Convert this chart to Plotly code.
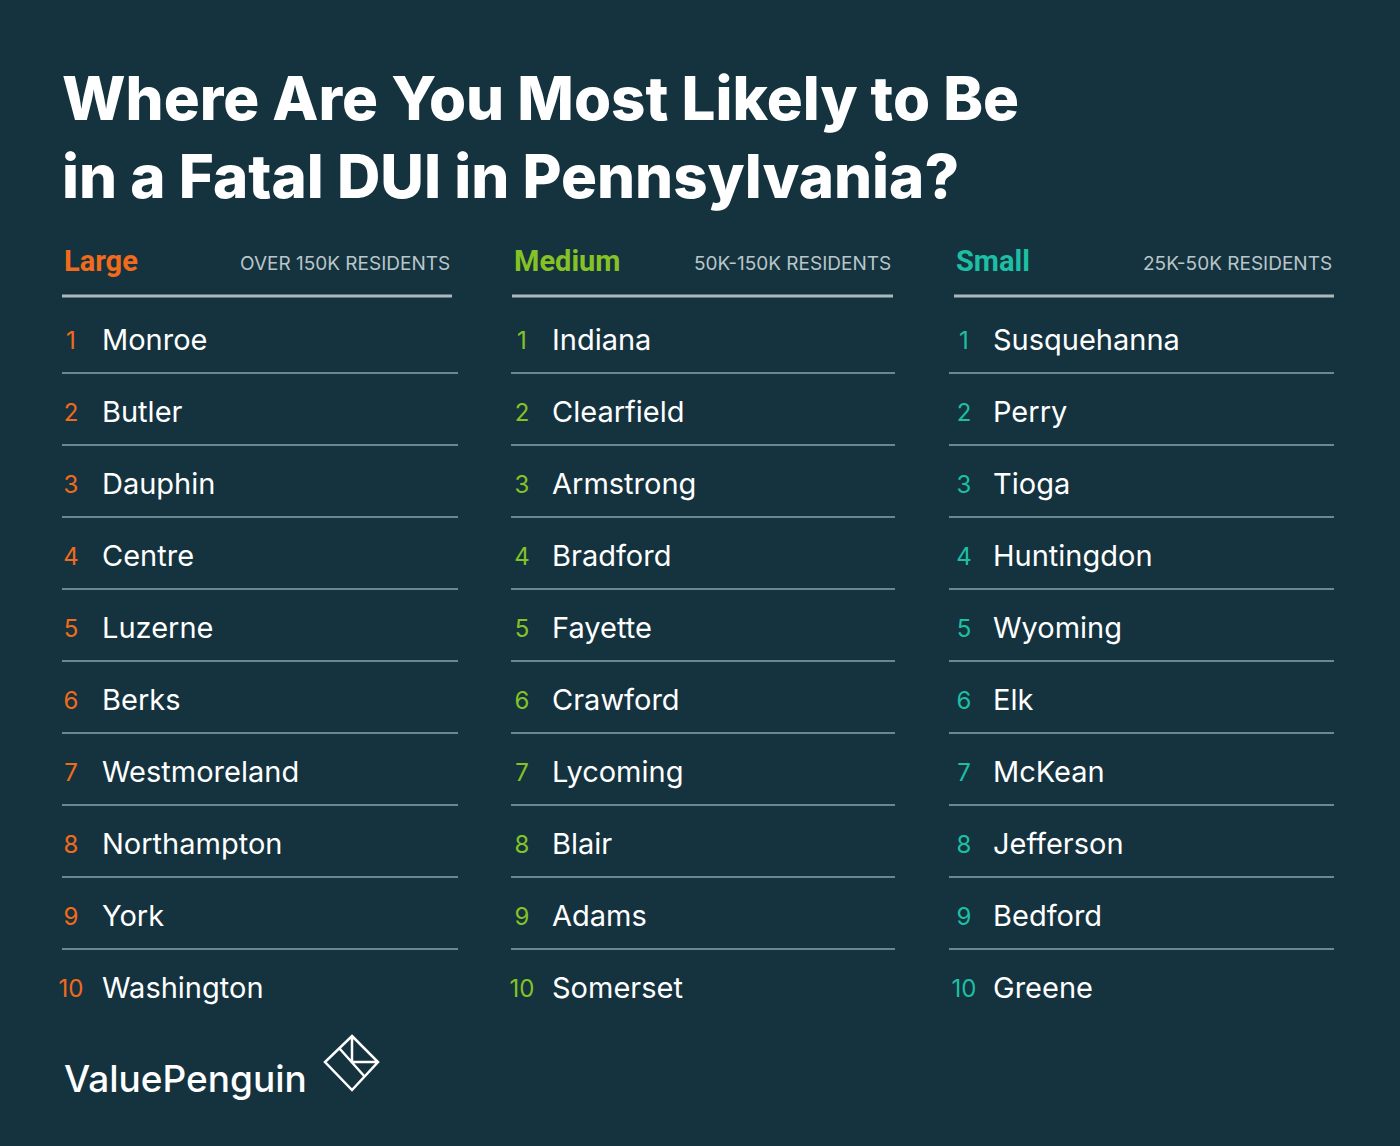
import plotly.graph_objects as go

# Data
groups = ["Large", "Medium", "Small"]
subtitles = ["OVER 150K RESIDENTS", "50K-150K RESIDENTS", "25K-50K RESIDENTS"]
large = ["Monroe", "Butler", "Dauphin", "Centre", "Luzerne", "Berks", "Westmoreland", "Northampton", "York", "Washington"]
medium = ["Indiana", "Clearfield", "Armstrong", "Bradford", "Fayette", "Crawford", "Lycoming", "Blair", "Adams", "Somerset"]
small = ["Susquehanna", "Perry", "Tioga", "Huntingdon", "Wyoming", "Elk", "McKean", "Jefferson", "Bedford", "Greene"]
ranks = list(range(1, 11))

bg = "#15333f"
colors = ["#f26a1b", "#84c225", "#1dbfa4"]
cols = [
    dict(num_x=71, name_x=102, line=(62, 458), head=(62, 452)),
    dict(num_x=522, name_x=552, line=(511, 895), head=(512, 893)),
    dict(num_x=964, name_x=993, line=(949, 1334), head=(954, 1334)),
]
font = "Inter"

fig = go.Figure()
shapes = []
annotations = []

for c, names in enumerate([large, medium, small]):
    g = cols[c]
    ys = [340 + 72 * i for i in range(len(names))]
    fig.add_trace(go.Scatter(x=[g["num_x"]] * len(ranks), y=[y + 3 for y in ys], mode="text",
                             text=[str(r) for r in ranks], textposition="middle center",
                             textfont=dict(family=font, size=24, color=colors[c]),
                             hoverinfo="skip", showlegend=False))
    fig.add_trace(go.Scatter(x=[g["name_x"]] * len(names), y=[y + 3 for y in ys], mode="text",
                             text=names, textposition="middle right",
                             textfont=dict(family=font, size=29, color="#ffffff"),
                             hoverinfo="skip", showlegend=False))
    for i in range(len(names) - 1):
        shapes.append(dict(type="line", x0=g["line"][0], x1=g["line"][1], y0=ys[i] + 33, y1=ys[i] + 33,
                           line=dict(color="#6b8791", width=2)))
    shapes.append(dict(type="line", x0=g["head"][0], x1=g["head"][1], y0=296, y1=296,
                       line=dict(color="#a9b9be", width=3)))
    annotations.append(dict(x=g["head"][0], y=261, text="<b>%s</b>" % groups[c], showarrow=False,
                            xanchor="left", yanchor="middle",
                            font=dict(family="Roboto", size=29, color=colors[c], weight=900)))
    annotations.append(dict(x=g["head"][1], y=263, text=subtitles[c], showarrow=False,
                            xanchor="right", yanchor="middle",
                            font=dict(family=font, size=19, color="#b9c6ca")))

annotations.append(dict(x=60, y=137, text="Where Are You Most Likely to Be<br>in a Fatal DUI in Pennsylvania?",
                        showarrow=False, xanchor="left", yanchor="middle", align="left",
                        font=dict(family=font, size=60, color="#ffffff", weight=800)))
annotations.append(dict(x=62, y=1078, text="ValuePenguin", showarrow=False, xanchor="left", yanchor="middle",
                        font=dict(family=font, size=37, color="#ffffff", weight=500)))

# logo outline
logo = "M352,1036 L378,1062 L352,1090 L325,1062 Z M340,1049 L365,1077 M352,1036 L352,1062 L378,1062"
shapes.append(dict(type="path", path=logo, line=dict(color="#ffffff", width=2.5)))

fig.update_layout(
    width=1400, height=1146, margin=dict(l=0, r=0, t=0, b=0),
    paper_bgcolor=bg, plot_bgcolor=bg,
    xaxis=dict(range=[0, 1400], visible=False, fixedrange=True),
    yaxis=dict(range=[1146, 0], visible=False, fixedrange=True),
    shapes=shapes, annotations=annotations,
)

fig.write_html("out.html", config=dict(displayModeBar=False),
               post_script="document.body.style.margin='0';document.body.style.background='#15333f';")
